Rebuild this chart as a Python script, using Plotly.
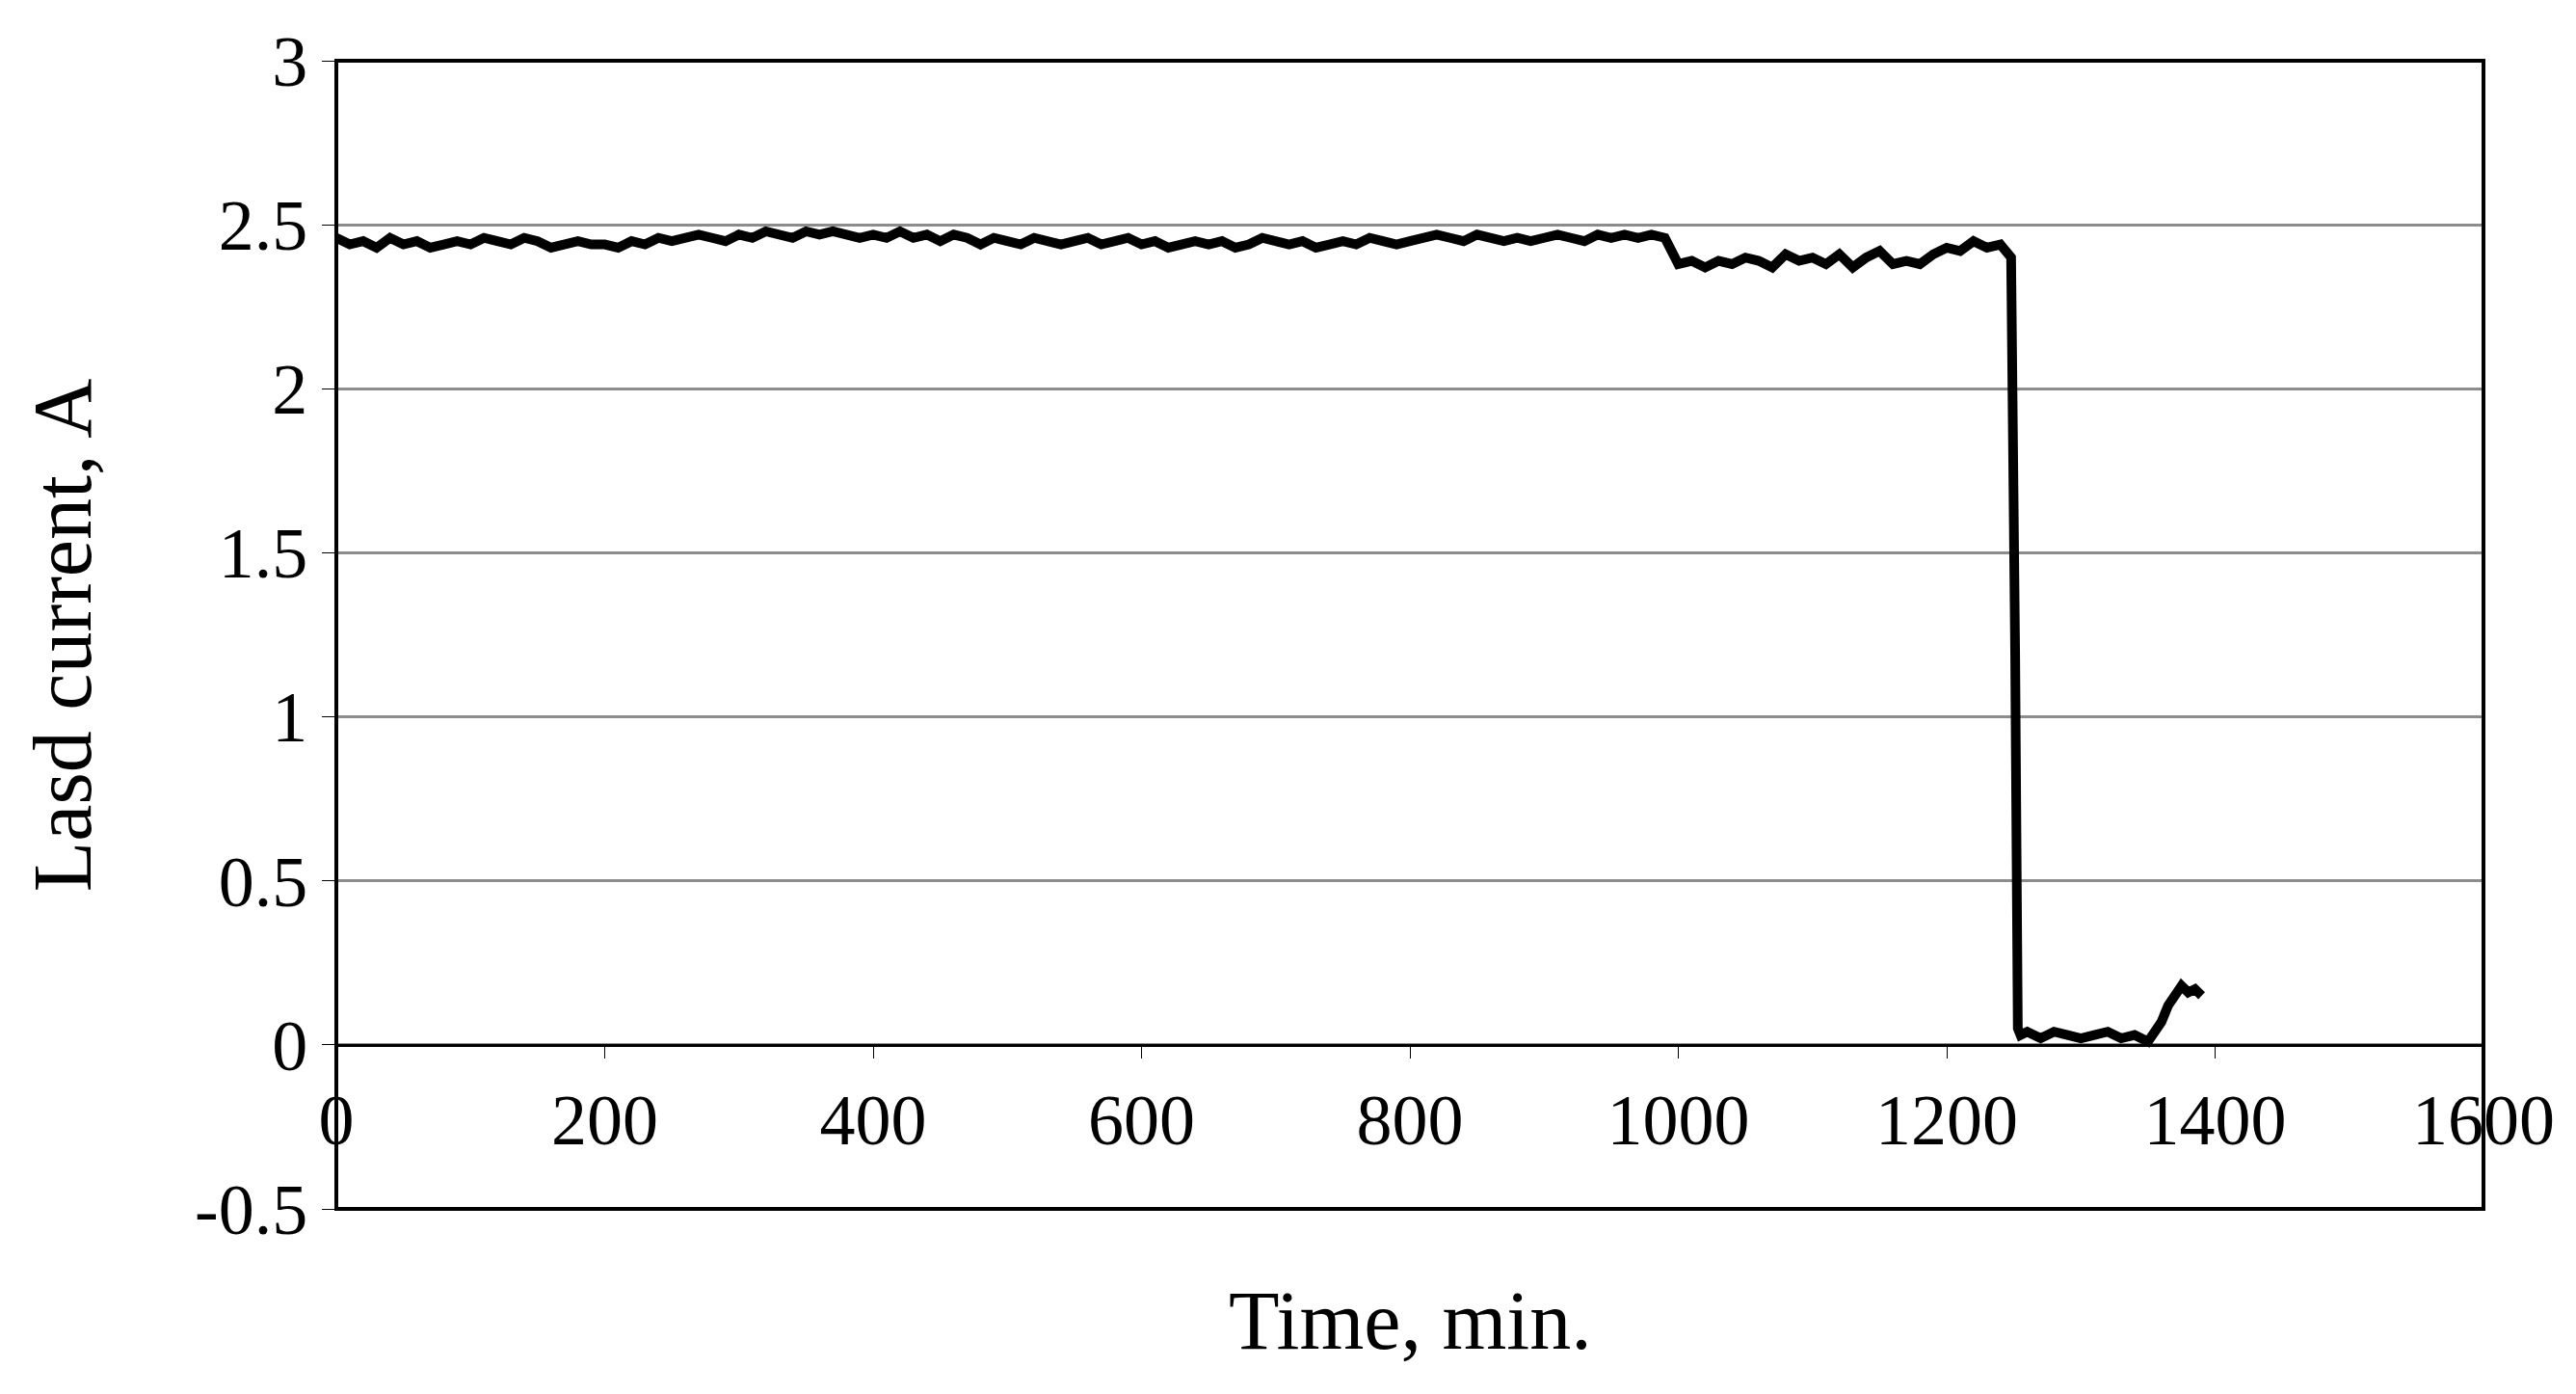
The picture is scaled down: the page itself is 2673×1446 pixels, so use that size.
import plotly.graph_objects as go

time_min = [0,10,20,30,40,50,60,70,80,90,100,110,120,130,140,150,160,170,180,190,
            200,210,220,230,240,250,260,270,280,290,300,310,320,330,340,350,360,370,380,390,
            400,410,420,430,440,450,460,470,480,490,500,510,520,530,540,550,560,570,580,590,
            600,610,620,630,640,650,660,670,680,690,700,710,720,730,740,750,760,770,780,790,
            800,810,820,830,840,850,860,870,880,890,900,910,920,930,940,950,960,970,980,990,
            1000,1010,1020,1030,1040,1050,1060,1070,1080,1090,1100,1110,1120,1130,1140,1150,1160,1170,1180,1190,
            1200,1210,1220,1230,1240,1248,1251,1253,1255,1260,1270,1280,1290,1300,1310,1320,1330,1340,1350,1360,
            1365,1370,1375,1380,1385,1390]
current_a = [2.46,2.44,2.45,2.43,2.46,2.44,2.45,2.43,2.44,2.45,2.44,2.46,2.45,2.44,2.46,2.45,2.43,2.44,2.45,2.44,
             2.44,2.43,2.45,2.44,2.46,2.45,2.46,2.47,2.46,2.45,2.47,2.46,2.48,2.47,2.46,2.48,2.47,2.48,2.47,2.46,
             2.47,2.46,2.48,2.46,2.47,2.45,2.47,2.46,2.44,2.46,2.45,2.44,2.46,2.45,2.44,2.45,2.46,2.44,2.45,2.46,
             2.44,2.45,2.43,2.44,2.45,2.44,2.45,2.43,2.44,2.46,2.45,2.44,2.45,2.43,2.44,2.45,2.44,2.46,2.45,2.44,
             2.45,2.46,2.47,2.46,2.45,2.47,2.46,2.45,2.46,2.45,2.46,2.47,2.46,2.45,2.47,2.46,2.47,2.46,2.47,2.46,
             2.38,2.39,2.37,2.39,2.38,2.40,2.39,2.37,2.41,2.39,2.40,2.38,2.41,2.37,2.40,2.42,2.38,2.39,2.38,2.41,
             2.43,2.42,2.45,2.43,2.44,2.40,1.20,0.05,0.03,0.04,0.02,0.04,0.03,0.02,0.03,0.04,0.02,0.03,0.01,0.07,
             0.12,0.15,0.18,0.16,0.17,0.15]
y_ticks = [-0.5, 0, 0.5, 1, 1.5, 2, 2.5, 3]
y_tick_text = ["-0.5", "0", "0.5", "1", "1.5", "2", "2.5", "3"]

fig = go.Figure()
fig.add_trace(go.Scatter(x=time_min, y=current_a, mode="lines",
                         line=dict(color="black", width=10), showlegend=False))

font = "Liberation Serif, Times New Roman, serif"
fig.update_layout(
    width=2673, height=1446, paper_bgcolor="white", plot_bgcolor="white",
    margin=dict(l=341, r=104, t=55, b=200),
    font=dict(family=font, color="black", size=74),
    xaxis=dict(range=[0, 1600], dtick=200, tick0=0, showgrid=False,
               anchor="free", position=0.5/3.5, showline=True, linecolor="black",
               linewidth=3, ticks="outside", ticklen=12, tickcolor="black",
               tickfont=dict(size=74), zeroline=False),
    yaxis=dict(range=[-0.5, 3], tickvals=y_ticks, ticktext=y_tick_text,
               showgrid=True, gridcolor="#8c8c8c",
               gridwidth=3, zeroline=False, showline=False, ticks="outside",
               ticklen=14, tickcolor="black", tickfont=dict(size=74)),
    shapes=[dict(type="rect", xref="paper", yref="paper", x0=0, y0=0, x1=1, y1=1,
                 line=dict(color="black", width=4))],
    annotations=[
        dict(text="Time, min.", xref="paper", yref="paper", x=0.5, y=-0.055,
             yanchor="top", showarrow=False, font=dict(size=86)),
        dict(text="Lasd current, A", xref="paper", yref="paper", x=-0.15, y=0.5,
             textangle=-90, showarrow=False, font=dict(size=86)),
    ],
)
fig.write_html("out.html")
